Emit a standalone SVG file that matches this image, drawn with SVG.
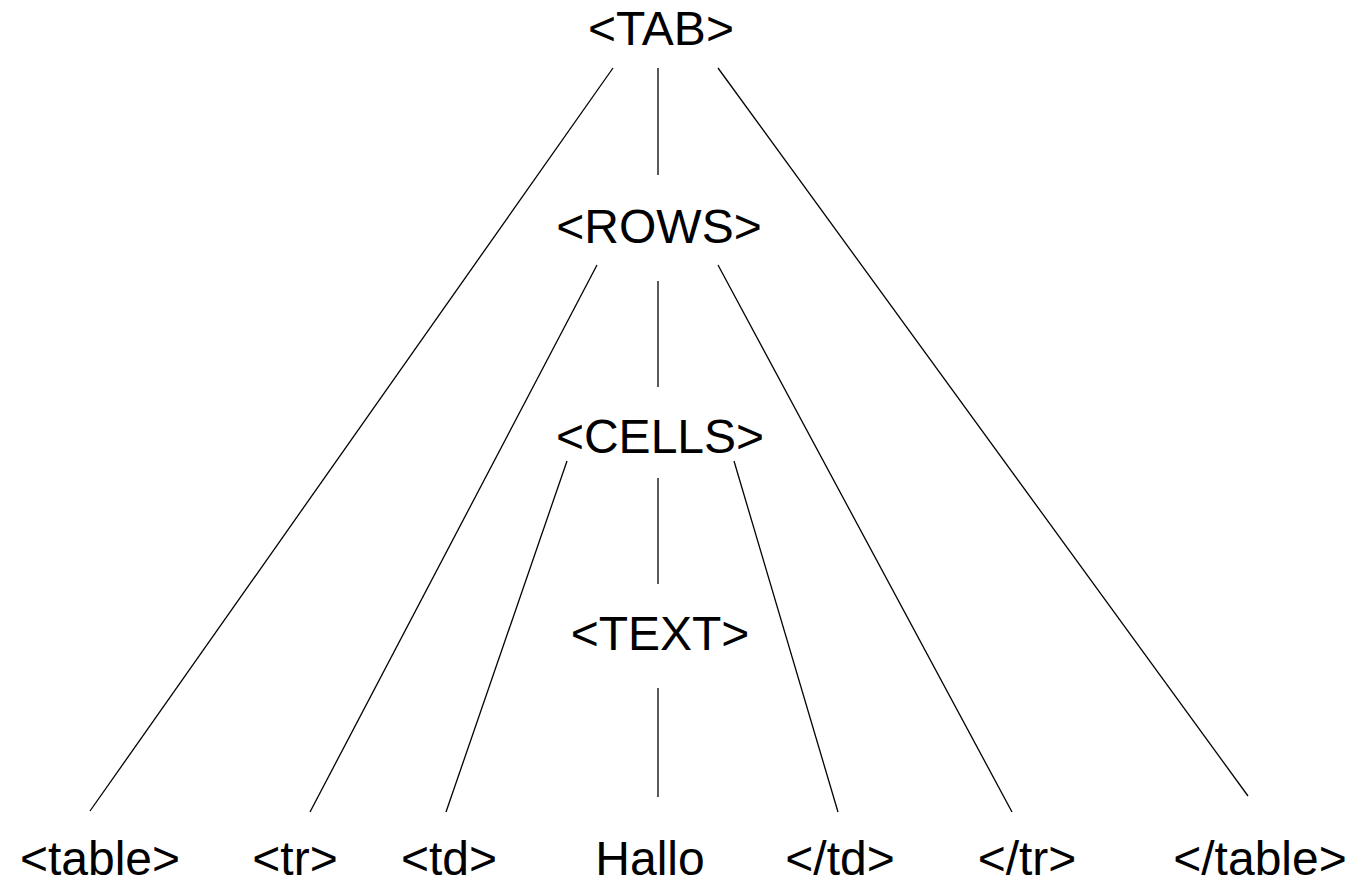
<svg xmlns="http://www.w3.org/2000/svg" width="1362" height="881" viewBox="0 0 1362 881">
<style>
text{font-family:"Liberation Sans",Arial,sans-serif;font-size:48px;fill:#000;text-anchor:middle}
line{stroke:#000;stroke-width:1.3}
</style>
<rect width="1362" height="881" fill="#fff"/>
<g id="connectors">
<line x1="613" y1="68" x2="90" y2="811"/>
<line x1="658" y1="68" x2="658" y2="175"/>
<line x1="718" y1="68" x2="1248" y2="796"/>
<line x1="597" y1="265" x2="310" y2="812"/>
<line x1="658" y1="281" x2="658" y2="387"/>
<line x1="718" y1="265" x2="1012" y2="812"/>
<line x1="567" y1="461" x2="446" y2="812"/>
<line x1="658" y1="478" x2="658" y2="584"/>
<line x1="734" y1="461" x2="838" y2="812"/>
<line x1="658" y1="688" x2="658" y2="797"/>
</g>
<g id="TAB"><text x="661" y="45">&lt;TAB&gt;</text></g>
<g id="ROWS"><text x="659" y="243">&lt;ROWS&gt;</text></g>
<g id="CELLS"><text x="660" y="453">&lt;CELLS&gt;</text></g>
<g id="TEXT"><text x="660" y="650">&lt;TEXT&gt;</text></g>
<g id="table"><text x="100" y="875">&lt;table&gt;</text></g>
<g id="tr"><text x="295" y="875">&lt;tr&gt;</text></g>
<g id="td"><text x="449" y="875">&lt;td&gt;</text></g>
<g id="Hallo"><text x="650" y="875">Hallo</text></g>
<g id="ctd"><text x="840" y="875">&lt;/td&gt;</text></g>
<g id="ctr"><text x="1027" y="875">&lt;/tr&gt;</text></g>
<g id="ctable"><text x="1260" y="875">&lt;/table&gt;</text></g>
</svg>
